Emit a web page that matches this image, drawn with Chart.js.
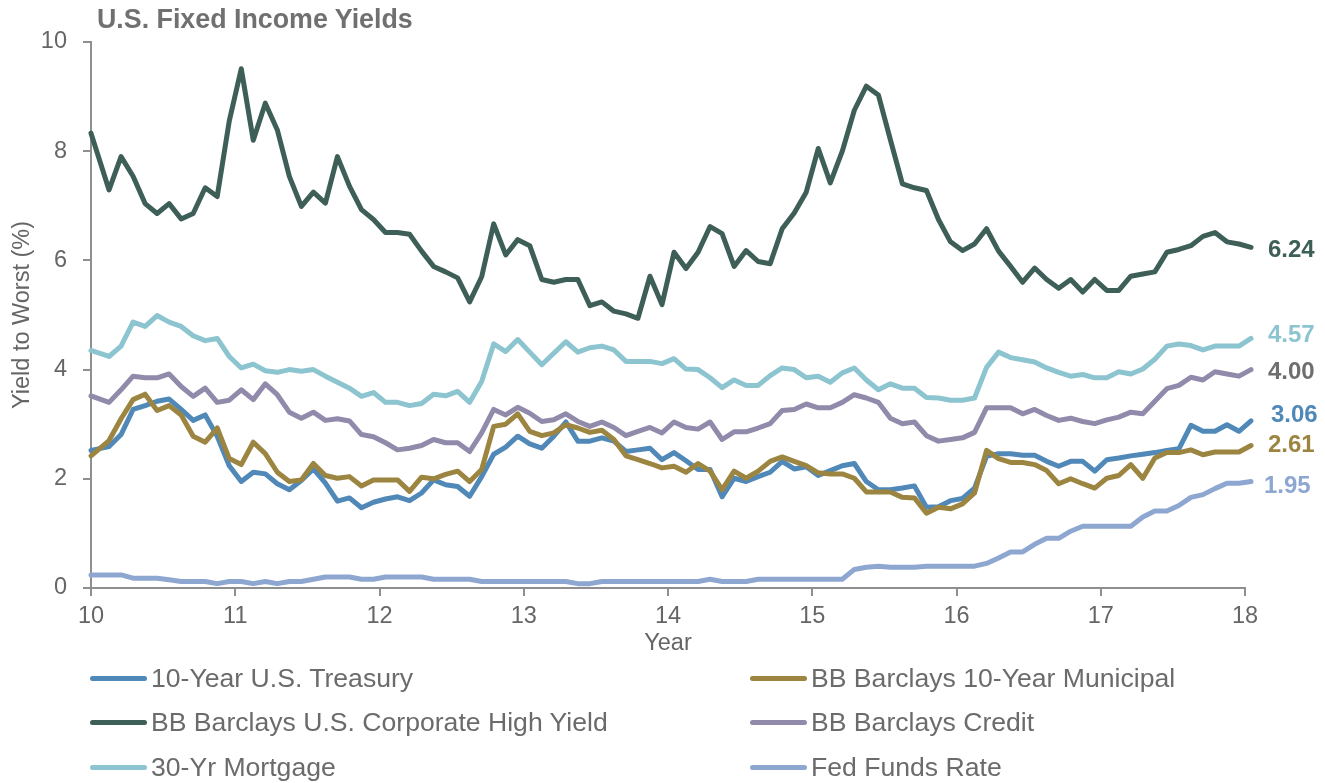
<!DOCTYPE html>
<html>
<head>
<meta charset="utf-8">
<script src="https://cdn.jsdelivr.net/npm/chart.js@4.4.0/dist/chart.umd.min.js"></script>
<style>
html,body{margin:0;padding:0;background:#fff;}
#wrap{position:relative;width:1325px;height:783px;overflow:hidden;font-family:"Liberation Sans",Arial,sans-serif;}
#c{position:absolute;left:0;top:0;}
#title{position:absolute;left:97px;top:4px;font-weight:bold;font-size:26.8px;color:#707070;white-space:nowrap;}
.lg{position:absolute;height:30px;display:flex;align-items:center;font-size:26.6px;color:#6b6b6b;white-space:nowrap;}
.lg i{display:inline-block;width:57px;height:5px;border-radius:3px;margin-right:4px;}
</style>
</head>
<body>
<div id="wrap">
  <canvas id="c" width="1325" height="783"></canvas>
  <div id="title">U.S. Fixed Income Yields</div>
  <div id="legend"></div>
</div>
<script>
// ---- data (monthly, Jan 2010 - Jan 2018) ----
const seriesNames = [
  "10-Year U.S. Treasury",
  "BB Barclays 10-Year Municipal",
  "BB Barclays U.S. Corporate High Yield",
  "BB Barclays Credit",
  "30-Yr Mortgage",
  "Fed Funds Rate"
];
const treasury = [2.52,2.59,2.81,3.27,3.34,3.42,3.46,3.27,3.07,3.17,2.78,2.24,1.95,2.12,2.09,1.91,1.80,1.97,2.18,1.92,1.59,1.65,1.47,1.57,1.63,1.67,1.60,1.74,1.98,1.89,1.86,1.68,2.04,2.45,2.58,2.78,2.64,2.56,2.78,3.04,2.69,2.69,2.75,2.69,2.50,2.53,2.56,2.35,2.48,2.33,2.17,2.17,1.67,2.01,1.95,2.04,2.12,2.32,2.18,2.22,2.06,2.15,2.24,2.28,1.95,1.80,1.80,1.83,1.87,1.48,1.49,1.60,1.64,1.83,2.41,2.46,2.46,2.43,2.43,2.32,2.23,2.32,2.32,2.14,2.35,2.38,2.42,2.45,2.48,2.52,2.55,2.98,2.87,2.87,2.99,2.87,3.06];
const municipal = [2.42,2.70,3.10,3.45,3.55,3.25,3.34,3.17,2.78,2.67,2.93,2.37,2.26,2.67,2.46,2.12,1.95,1.98,2.28,2.06,2.01,2.04,1.87,1.98,1.98,1.98,1.77,2.03,2.00,2.08,2.14,1.95,2.17,2.96,3.00,3.19,2.87,2.79,2.84,2.99,2.93,2.85,2.89,2.72,2.42,2.35,2.28,2.20,2.23,2.12,2.28,2.14,1.80,2.14,2.01,2.14,2.32,2.40,2.32,2.24,2.11,2.09,2.09,2.01,1.76,1.76,1.76,1.66,1.65,1.37,1.48,1.45,1.54,1.74,2.52,2.37,2.30,2.30,2.26,2.15,1.91,2.00,1.91,1.83,2.01,2.06,2.26,2.01,2.38,2.48,2.48,2.53,2.44,2.49,2.49,2.49,2.61];
const highYield = [8.33,7.29,7.90,7.54,7.04,6.86,7.04,6.76,6.86,7.33,7.17,8.55,9.51,8.20,8.88,8.39,7.54,6.99,7.25,7.05,7.90,7.36,6.93,6.75,6.51,6.51,6.48,6.17,5.89,5.79,5.68,5.24,5.70,6.67,6.10,6.38,6.27,5.65,5.60,5.65,5.65,5.17,5.24,5.07,5.02,4.94,5.71,5.19,6.15,5.85,6.15,6.62,6.49,5.89,6.18,5.98,5.94,6.58,6.87,7.25,8.05,7.42,8.00,8.75,9.19,9.03,8.21,7.40,7.33,7.28,6.75,6.34,6.18,6.30,6.58,6.17,5.89,5.60,5.86,5.65,5.49,5.65,5.42,5.65,5.45,5.45,5.71,5.75,5.79,6.15,6.20,6.27,6.44,6.51,6.34,6.30,6.24];
const credit = [3.52,3.40,3.63,3.88,3.85,3.85,3.92,3.69,3.51,3.66,3.40,3.44,3.63,3.45,3.74,3.54,3.22,3.11,3.22,3.07,3.10,3.06,2.81,2.77,2.66,2.53,2.56,2.61,2.72,2.66,2.66,2.50,2.84,3.27,3.17,3.31,3.20,3.05,3.08,3.19,3.05,2.96,3.04,2.94,2.79,2.87,2.94,2.84,3.04,2.94,2.91,3.04,2.72,2.86,2.86,2.93,3.01,3.25,3.27,3.37,3.30,3.30,3.40,3.54,3.48,3.40,3.11,3.01,3.04,2.79,2.69,2.72,2.75,2.85,3.30,3.30,3.30,3.19,3.27,3.16,3.07,3.11,3.05,3.01,3.08,3.13,3.22,3.19,3.42,3.65,3.71,3.86,3.81,3.96,3.92,3.88,4.00];
const mortgage = [4.35,4.24,4.43,4.87,4.79,4.99,4.87,4.79,4.62,4.53,4.57,4.24,4.03,4.10,3.98,3.95,4.00,3.97,4.00,3.88,3.77,3.66,3.51,3.58,3.40,3.40,3.34,3.38,3.55,3.52,3.60,3.40,3.78,4.47,4.33,4.55,4.32,4.09,4.30,4.51,4.32,4.40,4.43,4.36,4.15,4.15,4.15,4.11,4.20,4.01,4.00,3.85,3.67,3.81,3.71,3.71,3.89,4.03,4.00,3.85,3.88,3.77,3.94,4.03,3.81,3.63,3.74,3.66,3.66,3.49,3.48,3.44,3.44,3.48,4.04,4.32,4.22,4.18,4.14,4.03,3.95,3.88,3.91,3.85,3.85,3.96,3.92,4.01,4.19,4.43,4.47,4.44,4.36,4.43,4.43,4.43,4.57];
const fedFunds = [0.24,0.24,0.24,0.18,0.18,0.18,0.15,0.12,0.12,0.12,0.08,0.12,0.12,0.08,0.12,0.08,0.12,0.12,0.16,0.20,0.20,0.20,0.16,0.16,0.20,0.20,0.20,0.20,0.16,0.16,0.16,0.16,0.12,0.12,0.12,0.12,0.12,0.12,0.12,0.12,0.08,0.08,0.12,0.12,0.12,0.12,0.12,0.12,0.12,0.12,0.12,0.16,0.12,0.12,0.12,0.16,0.16,0.16,0.16,0.16,0.16,0.16,0.16,0.34,0.38,0.40,0.38,0.38,0.38,0.40,0.40,0.40,0.40,0.40,0.45,0.55,0.66,0.66,0.80,0.91,0.91,1.04,1.13,1.13,1.13,1.13,1.13,1.30,1.41,1.41,1.51,1.66,1.71,1.82,1.92,1.92,1.95];
const yTicks = [0, 2, 4, 6, 8, 10];
const xTicks = [10, 11, 12, 13, 14, 15, 16, 17, 18];
// month position of each observation (first at year start, then mid/late month)
const monthPos = treasury.map((_, i) => (i === 0 ? 0 : i + 0.5));

// ---- styling ----
const colors = ["#5088b8", "#9b8540", "#3e5f58", "#918aab", "#8cc4d0", "#8ea7d1"];
const labelColors = ["#5088b8", "#9b8540", "#3e5f58", "#6e6e6e", "#8cc4d0", "#8ea7d1"];
const labelDy = [-6, 0, 3, 3, -3.5, 4.5];
const labelDx = [3, 0, 0, 0, 0, -4];
const drawOrder = [1, 0, 2, 3, 4, 5];
const allSeries = [treasury, municipal, highYield, credit, mortgage, fedFunds];
const FONT = '"Liberation Sans", Arial, sans-serif';
const TXT = "#666666";
const AX = "#8f8f8f";

const datasets = allSeries.map((vals, s) => ({
  label: seriesNames[s],
  data: vals.map((v, i) => ({ x: xTicks[0] + monthPos[i] / 12, y: v })),
  borderColor: colors[s],
  backgroundColor: colors[s],
  borderWidth: 5,
  borderCapStyle: "round",
  borderJoinStyle: "round",
  pointRadius: 0,
  tension: 0,
  fill: false,
  clip: false,
  order: drawOrder[s]
}));

const endLabels = {
  id: "endLabels",
  afterDatasetsDraw(chart) {
    const ctx = chart.ctx, ys = chart.scales.y, area = chart.chartArea;
    chart.data.datasets.forEach((ds, i) => {
      const v = ds.data[ds.data.length - 1].y;
      ctx.save();
      ctx.font = "bold 24px " + FONT;
      ctx.fillStyle = labelColors[i];
      ctx.textAlign = "left";
      ctx.textBaseline = "middle";
      ctx.fillText(v.toFixed(2), area.right + 23 + labelDx[i], ys.getPixelForValue(v) + labelDy[i]);
      ctx.restore();
    });
  }
};

new Chart(document.getElementById("c"), {
  type: "line",
  data: { datasets },
  options: {
    responsive: false,
    animation: false,
    layout: { padding: { left: 0, right: 80, top: 42, bottom: 125 } },
    plugins: { legend: { display: false }, tooltip: { enabled: false }, title: { display: false } },
    scales: {
      x: {
        type: "linear",
        min: xTicks[0],
        max: xTicks[xTicks.length - 1],
        afterBuildTicks: (s) => { s.ticks = xTicks.map(v => ({ value: v })); },
        afterFit: (s) => { s.height = 70; },
        ticks: { font: { family: FONT, size: 23.5 }, color: TXT, padding: 6, maxRotation: 0, autoSkip: false, callback: (v) => String(v) },
        grid: { drawOnChartArea: false, drawTicks: true, tickLength: 8, color: AX, lineWidth: 2 },
        border: { display: true, color: AX, width: 2 },
        title: { display: true, text: "Year", font: { family: FONT, size: 23.5 }, color: TXT, padding: { top: 0, bottom: 0 } }
      },
      y: {
        type: "linear",
        min: yTicks[0],
        max: yTicks[yTicks.length - 1],
        afterBuildTicks: (s) => { s.ticks = yTicks.map(v => ({ value: v })); },
        afterFit: (s) => { s.width = 91; },
        ticks: { font: { family: FONT, size: 23.5 }, color: TXT, padding: 16, callback: (v) => String(v) },
        grid: { drawOnChartArea: false, drawTicks: true, tickLength: 8, color: AX, lineWidth: 2 },
        border: { display: true, color: AX, width: 2 },
        title: { display: true, text: "Yield to Worst (%)", font: { family: FONT, size: 23.5 }, color: TXT, padding: { top: 8, bottom: 0 } }
      }
    }
  },
  plugins: [endLabels]
});

// ---- legend (two columns, three rows) ----
const legendCols = [90, 750];
const legendRows = [678, 722, 767];
const lg = document.getElementById("legend");
seriesNames.forEach((name, i) => {
  const d = document.createElement("div");
  d.className = "lg";
  d.style.left = legendCols[i % 2] + "px";
  d.style.top = (legendRows[Math.floor(i / 2)] - 15) + "px";
  const sw = document.createElement("i");
  sw.style.background = colors[i];
  d.appendChild(sw);
  d.appendChild(document.createTextNode(name));
  lg.appendChild(d);
});
</script>
</body>
</html>
